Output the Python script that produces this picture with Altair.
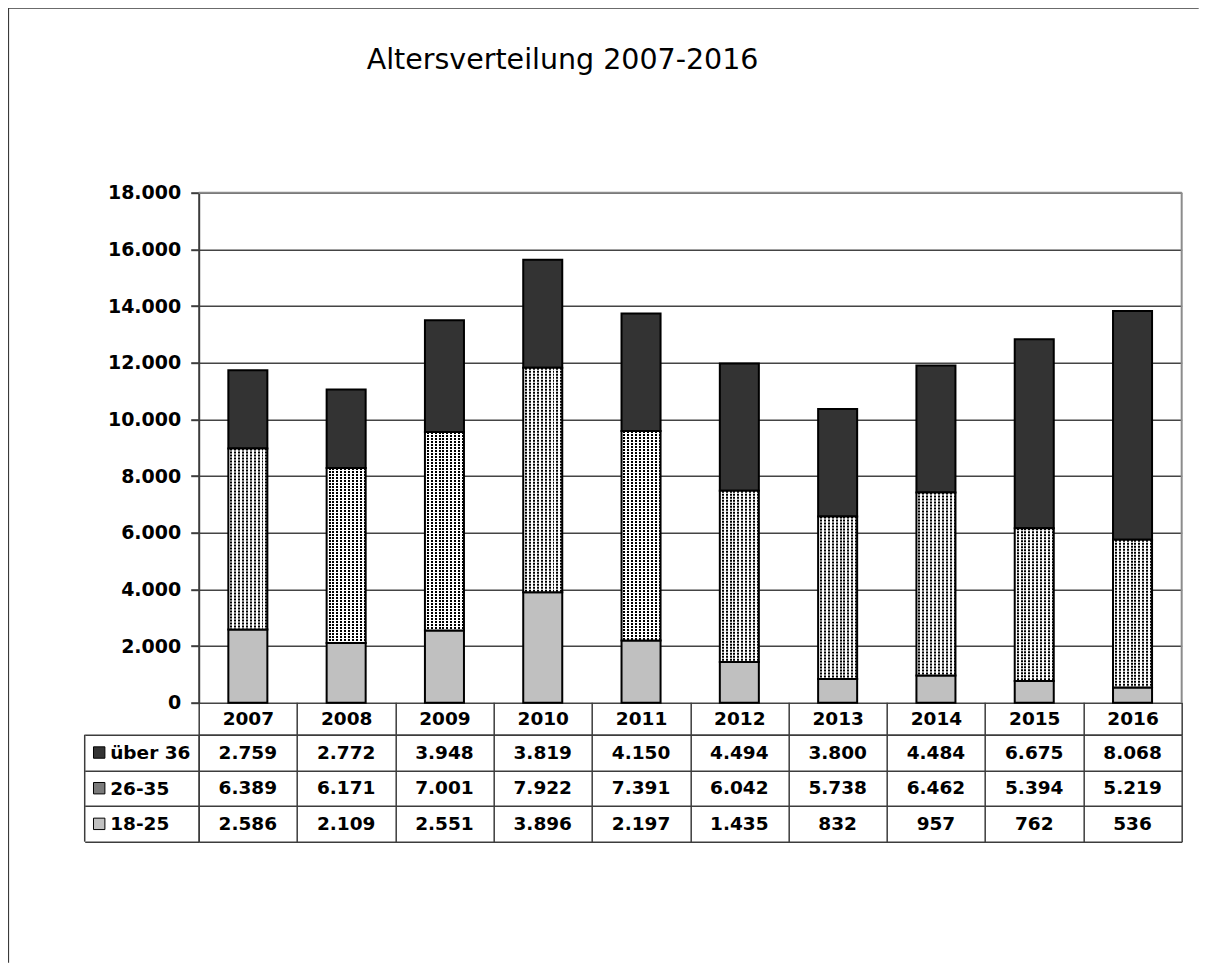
import altair as alt
import pandas as pd

# ---------------- data ----------------
years = ["2007", "2008", "2009", "2010", "2011", "2012", "2013", "2014", "2015", "2016"]
series = ["über 36", "26-35", "18-25"]
ueber_36 = [2759, 2772, 3948, 3819, 4150, 4494, 3800, 4484, 6675, 8068]
age_26_35 = [6389, 6171, 7001, 7922, 7391, 6042, 5738, 6462, 5394, 5219]
age_18_25 = [2586, 2109, 2551, 3896, 2197, 1435, 832, 957, 762, 536]
y_ticks = [0, 2000, 4000, 6000, 8000, 10000, 12000, 14000, 16000, 18000]
title_text = "Altersverteilung 2007-2016"

# ---------------- styles ----------------
FONT = "DejaVu Sans"
LINE = "#3c3c3c"
series_colors = ["#333333", "#7a7a7a", "#c0c0c0"]
W, H = 983, 510
TH = 107
BAR_W = 39


def col_stripes(n, frac, c1, c2):
    stops = []
    for k in range(n):
        a, b, c = k / n, (k + frac) / n, (k + 1) / n
        stops += [{"offset": a, "color": c1}, {"offset": b, "color": c1},
                  {"offset": b, "color": c2}, {"offset": c, "color": c2}]
    return {"gradient": "linear", "stops": stops, "x1": 0, "y1": 0, "x2": 1, "y2": 0}


grad_cols = col_stripes(10, 0.5, "#ffffff", "rgba(255,255,255,0)")

# ---------------- tables ----------------
rows = []
for order, (s, vals) in enumerate([("18-25", age_18_25), ("26-35", age_26_35), ("über 36", ueber_36)]):
    for yr, v in zip(years, vals):
        rows.append({"year": yr, "series": s, "value": v, "order": order})
df = pd.DataFrame(rows)
one = pd.DataFrame({"v": [y_ticks[-1]]})
key_df = pd.DataFrame({"series": series})

fill_scale = alt.Scale(domain=series, range=series_colors)

# ---------------- bar chart ----------------
xs = alt.X("year:N", sort=years,
           scale=alt.Scale(paddingInner=0.603, paddingOuter=0.3015), axis=None)
y_axis = alt.Axis(values=y_ticks,
                  labelExpr="replace(format(datum.value, ','), ',', '.')",
                  labelFont=FONT, labelFontWeight="bold", labelFontSize=19,
                  labelColor="black", labelPadding=10,
                  tickSize=8, tickWidth=2, tickColor=LINE,
                  domainColor=LINE, domainWidth=2,
                  grid=True, gridColor="#444444", gridWidth=1.5, title=None)
ys = alt.Y("y1:Q", scale=alt.Scale(domain=[0, 18000], nice=False), axis=y_axis)

base = alt.Chart(df).transform_stack(
    stack="value", groupby=["year"],
    sort=[alt.SortField("order", order="ascending")], as_=["y0", "y1"])

solid = base.transform_filter("datum.series != '26-35'").mark_bar(
    stroke="black", strokeWidth=2).encode(
    x=xs, y=ys, y2="y0:Q",
    fill=alt.Fill("series:N", scale=fill_scale, legend=None))

mid = base.transform_filter("datum.series == '26-35'")
dots_bg = mid.mark_bar(fill="white", strokeWidth=0).encode(x=xs, y=ys, y2="y0:Q")
dots_rows = mid.mark_rule(color="black", strokeWidth=BAR_W, strokeDash=[2, 1],
                          strokeCap="butt").encode(x=xs, y=ys, y2="y0:Q")
dots_cols = mid.mark_bar(fill=grad_cols, stroke="black", strokeWidth=2).encode(
    x=xs, y=ys, y2="y0:Q")

top_border = alt.Chart(one).mark_rule(color="#8c8c8c", strokeWidth=2).encode(
    y=alt.Y("v:Q", scale=alt.Scale(domain=[0, 18000], nice=False), axis=y_axis))
right_border = alt.Chart(one).mark_rule(color="#8c8c8c", strokeWidth=2).encode(
    x=alt.value("width"))
frame_top = alt.Chart(one).mark_rule(color="#3a3a3a", strokeWidth=2).encode(
    x=alt.value(-190.6), x2=alt.value(1000), y=alt.value(-185))
frame_left = alt.Chart(one).mark_rule(color="#3a3a3a", strokeWidth=2).encode(
    x=alt.value(-190.6), y=alt.value(-185), y2=alt.value(770))

bars = alt.layer(solid, dots_bg, dots_rows, dots_cols, top_border, right_border,
                 frame_top, frame_left).properties(width=W, height=H)

# ---------------- data table ----------------
tx = alt.X("year:N", sort=years, scale=alt.Scale(paddingInner=0, paddingOuter=0),
           axis=alt.Axis(orient="top", title=None, labelAngle=0,
                         labelFont=FONT, labelFontWeight="bold", labelFontSize=18.5,
                         labelColor="black", labelBaseline="middle",
                         labelPadding=-16.2, tickBand="extent", tickSize=32.5,
                         tickColor=LINE, tickWidth=1.5, domainColor=LINE,
                         domainWidth=1.5, grid=True, gridColor=LINE, gridWidth=1.5))
ty = alt.Y("series:N", sort=series, scale=alt.Scale(paddingInner=0, paddingOuter=0),
           axis=alt.Axis(title=None, labelFont=FONT, labelFontWeight="bold",
                         labelFontSize=18.5, labelColor="black", labelAlign="left",
                         labelBaseline="middle", labelPadding=-25,
                         tickBand="extent", tickSize=114, tickColor=LINE,
                         tickWidth=1.5, domainColor=LINE, domainWidth=1.5,
                         grid=True, gridColor=LINE, gridWidth=1.5))

cells = alt.Chart(df).transform_calculate(
    label="replace(format(datum.value, ','), ',', '.')").mark_text(
    font=FONT, fontWeight="bold", fontSize=18.5, color="black").encode(
    x=tx, y=ty, text="label:N")

keys = alt.Chart(key_df).mark_point(
    shape="square", filled=True, size=130, stroke="black", strokeWidth=1,
    opacity=1).encode(x=alt.value(-99.5), y=ty,
                      fill=alt.Fill("series:N", scale=fill_scale, legend=None))

left_edge = alt.Chart(one).mark_rule(color=LINE, strokeWidth=1.5).encode(
    x=alt.value(-114), y=alt.value(0), y2=alt.value("height"))

table = alt.layer(cells, keys, left_edge).properties(width=W, height=TH)

chart = alt.vconcat(bars, table, spacing=32, bounds="flush").properties(
    title=alt.TitleParams(text=title_text, font=FONT, fontSize=28.5,
                          fontWeight="normal", color="black", anchor="start",
                          frame="group", dx=168, dy=68, offset=0),
    padding={"left": -2.3, "top": -2.3, "right": 0, "bottom": 0},
    background="white",
).configure_view(stroke="transparent")

chart.save("out.html", embed_options={"renderer": "svg", "actions": False})
